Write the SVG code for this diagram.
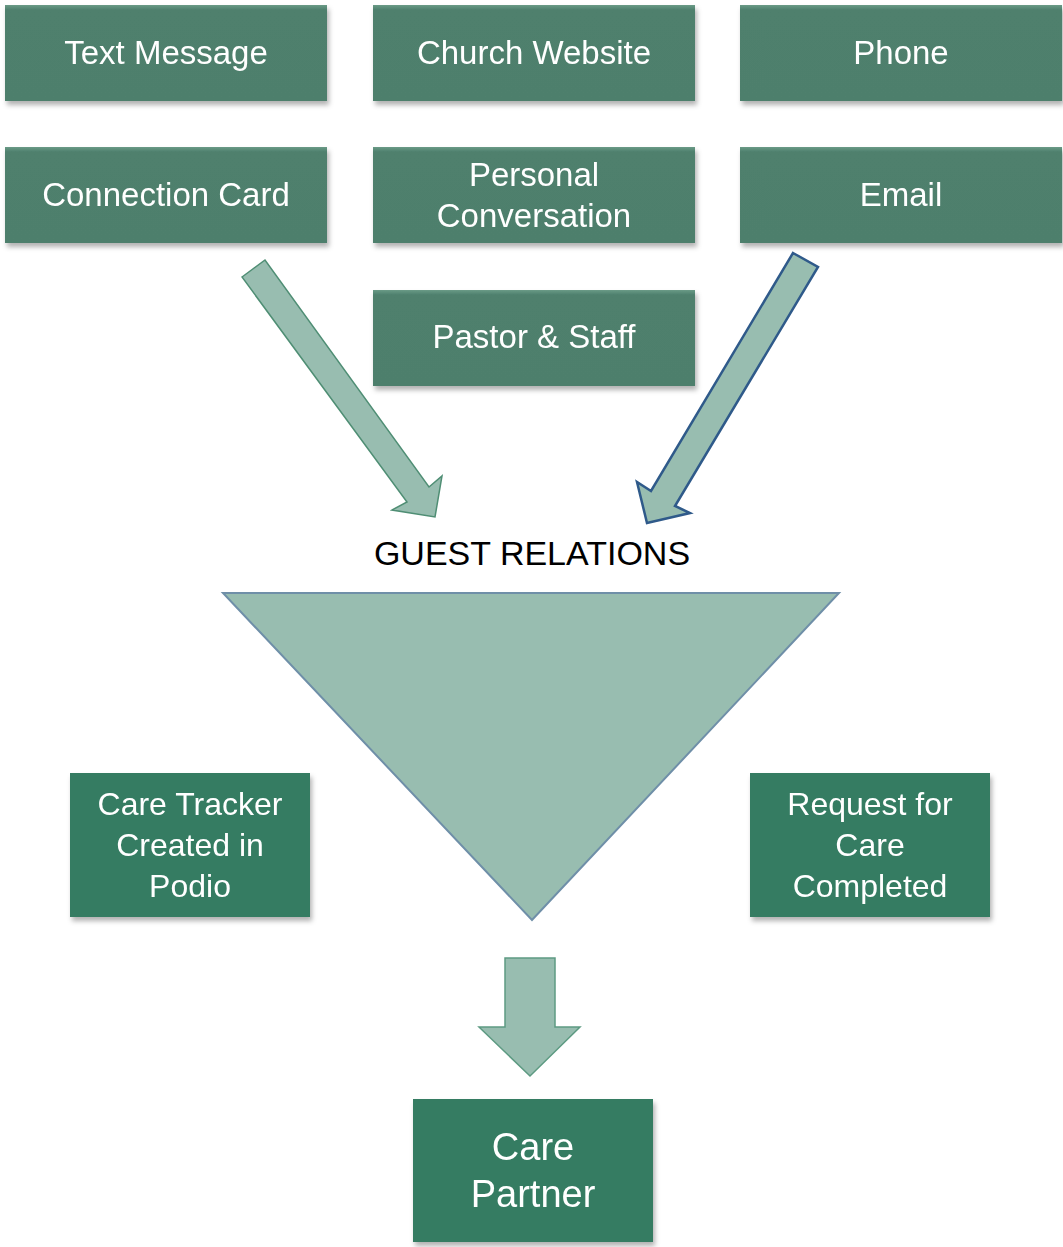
<svg xmlns="http://www.w3.org/2000/svg" width="1063" height="1247" viewBox="0 0 1063 1247">
  <style>
    .lbl { font-family: "Liberation Sans", Arial, sans-serif; fill: #ffffff; text-anchor: middle; }
    .src { fill: url(#srcFill); }
    .out { fill: #347c62; }
    .big { fill: #98bdb0; }
  </style>
  <defs>
    <filter id="shadow" x="-10%" y="-10%" width="125%" height="130%">
      <feDropShadow dx="2" dy="4" stdDeviation="2.5" flood-color="#000" flood-opacity="0.3"/>
    </filter>
    <linearGradient id="srcFill" x1="0" y1="0" x2="0" y2="1">
      <stop offset="0" stop-color="#6a9b87"/>
      <stop offset="0.05" stop-color="#4f806d"/>
      <stop offset="1" stop-color="#4e7f6c"/>
    </linearGradient>
  </defs>
  <rect width="1063" height="1247" fill="#ffffff"/>

  <!-- intake channels -->
  <g id="text-message" filter="url(#shadow)">
    <rect class="src" x="5" y="5" width="322" height="96"/>
    <text class="lbl" x="166" y="64" font-size="33">Text Message</text>
  </g>
  <g id="church-website" filter="url(#shadow)">
    <rect class="src" x="373" y="5" width="322" height="96"/>
    <text class="lbl" x="534" y="64" font-size="33">Church Website</text>
  </g>
  <g id="phone" filter="url(#shadow)">
    <rect class="src" x="740" y="5" width="322" height="96"/>
    <text class="lbl" x="901" y="64" font-size="33">Phone</text>
  </g>
  <g id="connection-card" filter="url(#shadow)">
    <rect class="src" x="5" y="147" width="322" height="96"/>
    <text class="lbl" x="166" y="206" font-size="33">Connection Card</text>
  </g>
  <g id="personal-conversation" filter="url(#shadow)">
    <rect class="src" x="373" y="147" width="322" height="96"/>
    <text class="lbl" x="534" y="186" font-size="33">Personal</text>
    <text class="lbl" x="534" y="227" font-size="33">Conversation</text>
  </g>
  <g id="email" filter="url(#shadow)">
    <rect class="src" x="740" y="147" width="322" height="96"/>
    <text class="lbl" x="901" y="206" font-size="33">Email</text>
  </g>
  <g id="pastor-staff" filter="url(#shadow)">
    <rect class="src" x="373" y="290" width="322" height="96"/>
    <text class="lbl" x="534" y="348" font-size="33">Pastor &amp; Staff</text>
  </g>

  <!-- flow arrows -->
  <g id="connectors">
    <polygon class="big" points="242,277 265,260 429,487 442,476 435,517 392,510 407,502" stroke="#4f8e74" stroke-width="1.5" stroke-linejoin="miter"/>
    <polygon class="big" points="793,253 818,267 675,506 690,513 647,523 637,482 651,491" stroke="#2f5a8a" stroke-width="2.5" stroke-linejoin="miter"/>
    <polygon class="big" points="505,958 555,958 555,1027 580,1027 530,1076 479,1027 505,1027" stroke="#5d9a82" stroke-width="1.5"/>
  </g>

  <!-- guest relations funnel -->
  <g id="guest-relations">
    <text x="532" y="565" font-family="'Liberation Sans', Arial, sans-serif" font-size="34" fill="#000000" text-anchor="middle">GUEST RELATIONS</text>
    <polygon class="big" points="223,593 839,593 532,920" stroke="#6f8fa8" stroke-width="2"/>
  </g>

  <!-- outcomes -->
  <g id="care-tracker" filter="url(#shadow)">
    <rect class="out" x="70" y="773" width="240" height="144"/>
    <text class="lbl" x="190" y="815" font-size="32">Care Tracker</text>
    <text class="lbl" x="190" y="856" font-size="32">Created in</text>
    <text class="lbl" x="190" y="897" font-size="32">Podio</text>
  </g>
  <g id="request-completed" filter="url(#shadow)">
    <rect class="out" x="750" y="773" width="240" height="144"/>
    <text class="lbl" x="870" y="815" font-size="32">Request for</text>
    <text class="lbl" x="870" y="856" font-size="32">Care</text>
    <text class="lbl" x="870" y="897" font-size="32">Completed</text>
  </g>
  <g id="care-partner" filter="url(#shadow)">
    <rect class="out" x="413" y="1099" width="240" height="143"/>
    <text class="lbl" x="533" y="1160" font-size="38">Care</text>
    <text class="lbl" x="533" y="1207" font-size="38">Partner</text>
  </g>
</svg>
